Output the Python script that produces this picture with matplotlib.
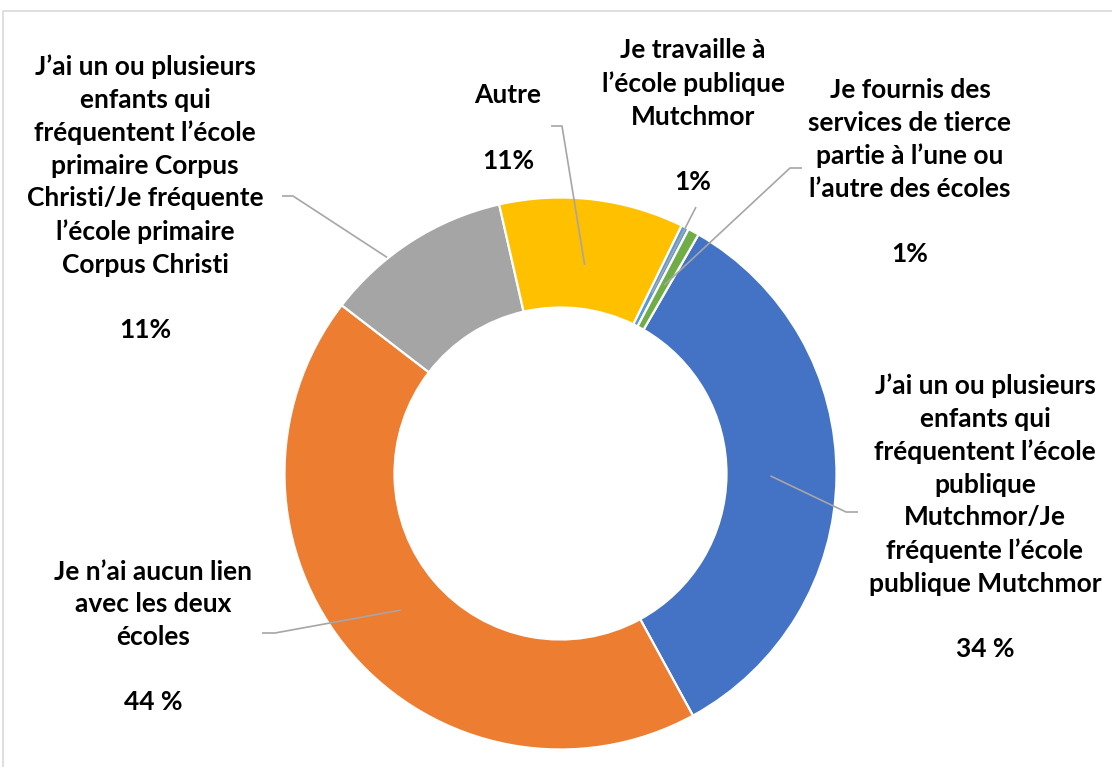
import matplotlib
matplotlib.use("Agg")
import matplotlib.pyplot as plt
import numpy as np

# ---- data ----
categories = [
    "J’ai un ou plusieurs\nenfants qui\nfréquentent l’école\npublique\nMutchmor/Je\nfréquente l’école\npublique Mutchmor",
    "Je n’ai aucun lien\navec les deux\nécoles",
    "J’ai un ou plusieurs\nenfants qui\nfréquentent l’école\nprimaire Corpus\nChristi/Je fréquente\nl’école primaire\nCorpus Christi",
    "Autre",
    "Je travaille à\nl’école publique\nMutchmor",
    "Je fournis des\nservices de tierce\npartie à l’une ou\nl’autre des écoles",
]
values = [33.7, 43.4, 11.0, 10.8, 0.45, 0.65]
pct_labels = ["34 %", "44 %", "11%", "11%", "1%", "1%"]
colors = ["#4472C4", "#ED7D31", "#A5A5A5", "#FFC000", "#5B9BD5", "#70AD47"]

W, H = 1112, 767
fig = plt.figure(figsize=(W / 100, H / 100), dpi=100)
ax = fig.add_axes([0, 0, 1, 1])

def py(y):  # pixel y (top-down) -> data y
    return H - y

cx, cy = 560.5, py(473.5)
R = 276.0
ring = 110.0

wedges, _ = ax.pie(values, colors=colors, startangle=60, counterclock=False,
                   center=(cx, cy), radius=R,
                   wedgeprops=dict(width=ring, edgecolor="white", linewidth=1.6),
                   frame=True)
ax.set_xlim(0, W)
ax.set_ylim(0, H)
ax.set_aspect("auto")
ax.axis("off")

# ---- layout (pixel coords) ----
label_pos = [(985, 517), (153, 637), (145, 198), (508, 128), (693, 116), (910, 172)]
elbows = [[(846, 512), (858, 512)],
          [(275, 633), (262, 633)],
          [(293, 196), (282, 196)],
          [(562, 126), (551, 126)],
          [(696, 207)],
          [(790, 168), (802, 168)]]
anchor_r = [210, 210, 210, 210, 202, 215]
line_z = [5, 5, 0.5, 5, 5, 5]

for i, w in enumerate(wedges):
    mid = np.deg2rad((w.theta1 + w.theta2) / 2)
    ax_ = cx + anchor_r[i] * np.cos(mid)
    ay_ = cy + anchor_r[i] * np.sin(mid)
    xs = [ax_] + [p[0] for p in elbows[i]]
    ys = [ay_] + [py(p[1]) for p in elbows[i]]
    ax.plot(xs, ys, color="#A6A6A6", lw=1.2, zorder=line_z[i], solid_capstyle="butt")
    lx, ly = label_pos[i]
    ax.text(lx, py(ly), categories[i] + "\n\n" + pct_labels[i],
            ha="center", va="center", multialignment="center",
            fontsize=19, fontweight="bold", family="Lato", color="black",
            linespacing=1.43, zorder=6)

# chart frame
ax.plot([3, 3, W + 5], [py(H + 5), py(11), py(11)], color="#D9D9D9", lw=1.2,
        zorder=0)

fig.savefig("out.png", dpi=100)
